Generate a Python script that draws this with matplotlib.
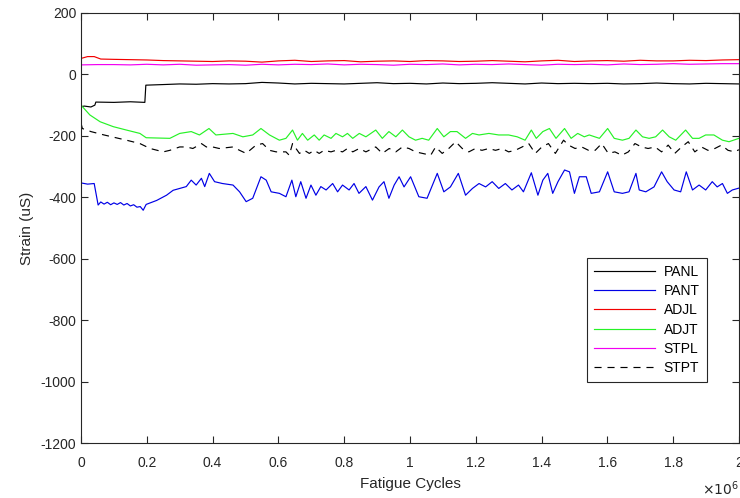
import numpy as np
import matplotlib
matplotlib.use("Agg")
import matplotlib.pyplot as plt
from matplotlib.ticker import FuncFormatter, MultipleLocator

plt.rcParams['font.family'] = ['Liberation Sans', 'DejaVu Sans']
plt.rcParams['axes.unicode_minus'] = False

# x values in millions of cycles, strain in microstrain
panl_x = [0, 0.01, 0.03, 0.042, 0.045, 0.1, 0.15, 0.194, 0.197, 0.25, 0.3, 0.35, 0.4, 0.45,
          0.5, 0.55, 0.6, 0.65, 0.7, 0.75, 0.8, 0.85, 0.9, 0.95, 1.0, 1.05, 1.1, 1.15, 1.2,
          1.25, 1.3, 1.35, 1.4, 1.45, 1.5, 1.55, 1.6, 1.65, 1.7, 1.75, 1.8, 1.85, 1.9, 1.95, 2.0]
panl_y = [-105, -103, -106, -100, -90, -91, -89, -91, -35, -33, -31, -32, -30, -31,
          -30, -26, -28, -31, -29, -30, -31, -29, -27, -30, -29, -31, -28, -30, -29,
          -27, -29, -31, -28, -30, -29, -30, -29, -31, -30, -28, -30, -31, -29, -30, -31]

pant_x = [0, 0.02, 0.04, 0.052, 0.06, 0.07, 0.08, 0.09, 0.1, 0.11, 0.12, 0.13, 0.14, 0.15,
          0.16, 0.17, 0.18, 0.189, 0.198, 0.23, 0.26, 0.28, 0.30, 0.32, 0.335, 0.35, 0.366,
          0.376, 0.39, 0.406, 0.43, 0.462, 0.482, 0.502, 0.522, 0.547, 0.563, 0.578, 0.603,
          0.623, 0.641, 0.653, 0.668, 0.684, 0.699, 0.714, 0.729, 0.745, 0.765, 0.78, 0.795,
          0.815, 0.83, 0.845, 0.866, 0.886, 0.906, 0.921, 0.936, 0.952, 0.967, 0.982, 1.002,
          1.027, 1.052, 1.083, 1.103, 1.123, 1.147, 1.169, 1.19, 1.21, 1.23, 1.25, 1.27,
          1.29, 1.31, 1.33, 1.345, 1.369, 1.389, 1.404, 1.419, 1.434, 1.45, 1.47, 1.485,
          1.5, 1.515, 1.536, 1.551, 1.576, 1.601, 1.621, 1.646, 1.666, 1.687, 1.697, 1.717,
          1.742, 1.765, 1.782, 1.803, 1.823, 1.84, 1.859, 1.879, 1.899, 1.919, 1.934, 1.95,
          1.965, 1.98, 2.0]
pant_y = [-353, -357, -355, -425, -415, -422, -416, -424, -418, -423, -417, -425, -420, -428,
          -424, -432, -430, -442, -423, -410, -393, -377, -371, -365, -344, -360, -338,
          -365, -322, -349, -355, -360, -382, -414, -403, -333, -344, -382, -387,
          -398, -344, -398, -349, -403, -360, -393, -365, -376, -355, -382, -360,
          -376, -355, -387, -365, -409, -366, -349, -403, -360, -333, -366, -333,
          -398, -403, -322, -382, -366, -322, -393, -371, -355, -366, -349, -371,
          -355, -376, -360, -382, -320, -393, -344, -322, -387, -349, -311, -317,
          -387, -333, -333, -387, -382, -317, -382, -387, -382, -322, -376, -382,
          -366, -317, -349, -376, -382, -317, -376, -360, -376, -349, -366, -355,
          -387, -376, -370]

adjl_x = [0, 0.02, 0.04, 0.06, 0.1, 0.15, 0.2, 0.25, 0.3, 0.35, 0.4, 0.45, 0.5, 0.55, 0.6,
          0.65, 0.7, 0.75, 0.8, 0.85, 0.9, 0.95, 1.0, 1.05, 1.1, 1.15, 1.2, 1.25, 1.3, 1.35,
          1.4, 1.45, 1.5, 1.55, 1.6, 1.65, 1.7, 1.75, 1.8, 1.85, 1.9, 1.95, 2.0]
adjl_y = [52, 58, 58, 50, 49, 48, 47, 45, 44, 43, 42, 44, 43, 40, 44,
          46, 42, 44, 45, 41, 43, 44, 42, 45, 44, 42, 43, 45, 43, 41,
          44, 46, 42, 44, 45, 43, 46, 44, 44, 46, 45, 47, 48]

adjt_x = [0, 0.027, 0.058, 0.098, 0.138, 0.179, 0.198, 0.27, 0.30, 0.335, 0.36, 0.389, 0.41,
          0.462, 0.492, 0.522, 0.547, 0.573, 0.603, 0.623, 0.643, 0.658, 0.673, 0.689, 0.709,
          0.724, 0.739, 0.76, 0.775, 0.795, 0.81, 0.826, 0.846, 0.866, 0.896, 0.916, 0.936,
          0.957, 0.977, 0.997, 1.017, 1.037, 1.057, 1.083, 1.103, 1.123, 1.143, 1.169, 1.19,
          1.21, 1.24, 1.27, 1.30, 1.326, 1.35, 1.369, 1.384, 1.404, 1.424, 1.444, 1.47, 1.49,
          1.51, 1.53, 1.545, 1.576, 1.601, 1.621, 1.646, 1.666, 1.687, 1.707, 1.727, 1.747,
          1.768, 1.788, 1.808, 1.838, 1.859, 1.879, 1.899, 1.924, 1.95, 1.97, 2.0]
adjt_y = [-100, -132, -154, -170, -181, -192, -206, -208, -192, -186, -197, -176, -197,
          -192, -203, -197, -176, -197, -214, -208, -181, -214, -192, -214, -197,
          -214, -197, -208, -192, -203, -192, -208, -192, -203, -181, -208, -186,
          -203, -181, -203, -214, -208, -214, -176, -203, -186, -186, -208, -192,
          -197, -192, -197, -197, -203, -214, -181, -208, -186, -176, -208, -176, -208,
          -192, -203, -197, -208, -176, -208, -214, -208, -181, -203, -208, -203,
          -181, -203, -214, -181, -208, -208, -197, -197, -214, -219, -208]

stpl_x = [0, 0.05, 0.1, 0.15, 0.2, 0.25, 0.3, 0.35, 0.4, 0.45, 0.5, 0.55, 0.6, 0.65, 0.7,
          0.75, 0.8, 0.85, 0.9, 0.95, 1.0, 1.05, 1.1, 1.15, 1.2, 1.25, 1.3, 1.35, 1.4, 1.45,
          1.5, 1.55, 1.6, 1.65, 1.7, 1.75, 1.8, 1.85, 1.9, 1.95, 2.0]
stpl_y = [31, 32, 32, 31, 33, 31, 33, 30, 31, 32, 30, 33, 31, 33, 32,
          34, 31, 33, 32, 30, 33, 32, 34, 31, 33, 32, 34, 32, 30, 33,
          32, 33, 31, 34, 32, 33, 35, 33, 34, 35, 35]

stpt_x = [0, 0.004, 0.03, 0.07, 0.138, 0.179, 0.21, 0.25, 0.27, 0.30, 0.32, 0.34, 0.366, 0.381,
          0.40, 0.42, 0.462, 0.482, 0.502, 0.532, 0.552, 0.573, 0.593, 0.623, 0.633, 0.643,
          0.664, 0.679, 0.694, 0.709, 0.724, 0.739, 0.76, 0.775, 0.795, 0.81, 0.826, 0.846,
          0.866, 0.896, 0.916, 0.937, 0.957, 0.977, 0.997, 1.017, 1.038, 1.063, 1.078, 1.098,
          1.118, 1.139, 1.159, 1.179, 1.199, 1.219, 1.24, 1.26, 1.28, 1.30, 1.32, 1.341,
          1.361, 1.381, 1.401, 1.421, 1.442, 1.467, 1.482, 1.502, 1.522, 1.543, 1.563, 1.583,
          1.603, 1.623, 1.644, 1.664, 1.684, 1.704, 1.724, 1.745, 1.765, 1.785, 1.805, 1.826,
          1.846, 1.866, 1.886, 1.906, 1.927, 1.947, 1.967, 1.987, 2.0]
stpt_y = [-159, -176, -186, -197, -214, -225, -241, -252, -247, -236, -236, -241, -225, -236,
          -236, -241, -236, -247, -257, -230, -225, -247, -252, -252, -263, -225,
          -257, -247, -257, -247, -257, -247, -252, -247, -252, -241, -252, -241,
          -252, -236, -257, -241, -252, -236, -241, -252, -257, -263, -236, -257,
          -241, -219, -241, -252, -241, -247, -241, -247, -241, -252, -247, -236,
          -225, -257, -236, -225, -257, -214, -230, -241, -236, -247, -247, -225,
          -257, -252, -263, -252, -225, -236, -241, -236, -252, -230, -257, -236,
          -219, -252, -236, -247, -241, -230, -247, -252, -245]

fig = plt.figure(figsize=(7.4, 4.98), dpi=100)
ax = fig.add_axes([0.1095, 0.110, 0.889, 0.864])

lw = 0.85
ax.plot(np.array(panl_x) * 1e6, panl_y, color='k', lw=lw, label='PANL')
ax.plot(np.array(pant_x) * 1e6, pant_y, color=(0, 0, 0.9), lw=lw, label='PANT')
ax.plot(np.array(adjl_x) * 1e6, adjl_y, color=(0.95, 0, 0), lw=lw, label='ADJL')
ax.plot(np.array(adjt_x) * 1e6, adjt_y, color=(0.15, 0.95, 0.15), lw=lw, label='ADJT')
ax.plot(np.array(stpl_x) * 1e6, stpl_y, color=(0.95, 0, 0.95), lw=lw, label='STPL')
ax.plot(np.array(stpt_x) * 1e6, stpt_y, color='k', lw=lw, ls=(0, (6, 5)), label='STPT')

ax.set_xlim(0, 2e6)
ax.set_ylim(-1200, 200)
ax.xaxis.set_major_locator(MultipleLocator(0.2e6))
ax.yaxis.set_major_locator(MultipleLocator(200))
ax.xaxis.set_major_formatter(FuncFormatter(lambda v, p: f"{v / 1e6:g}"))

gray = (0.15, 0.15, 0.15)
for s in ax.spines.values():
    s.set_color(gray)
    s.set_linewidth(0.8)
ax.tick_params(direction='in', top=True, right=True, length=5, width=0.8,
               colors=gray, labelsize=10, labelcolor=gray)
ax.tick_params(axis='x', pad=9)
ax.set_xlabel('Fatigue Cycles', fontsize=11, color=gray, labelpad=5)
ax.set_ylabel('Strain (uS)', fontsize=11, color=gray, labelpad=5)
ax.text(1.0, -0.085, r'$\times10^6$', transform=ax.transAxes, ha='right', va='top',
        fontsize=10, color=gray)

leg = ax.legend(loc='lower right', bbox_to_anchor=(0.951, 0.142), borderaxespad=0,
                fontsize=10, handlelength=4.4, labelspacing=0.38, borderpad=0.5,
                fancybox=False, framealpha=1, edgecolor=gray, handletextpad=0.6)
leg.get_frame().set_linewidth(0.8)

fig.savefig('out.png', dpi=100)
